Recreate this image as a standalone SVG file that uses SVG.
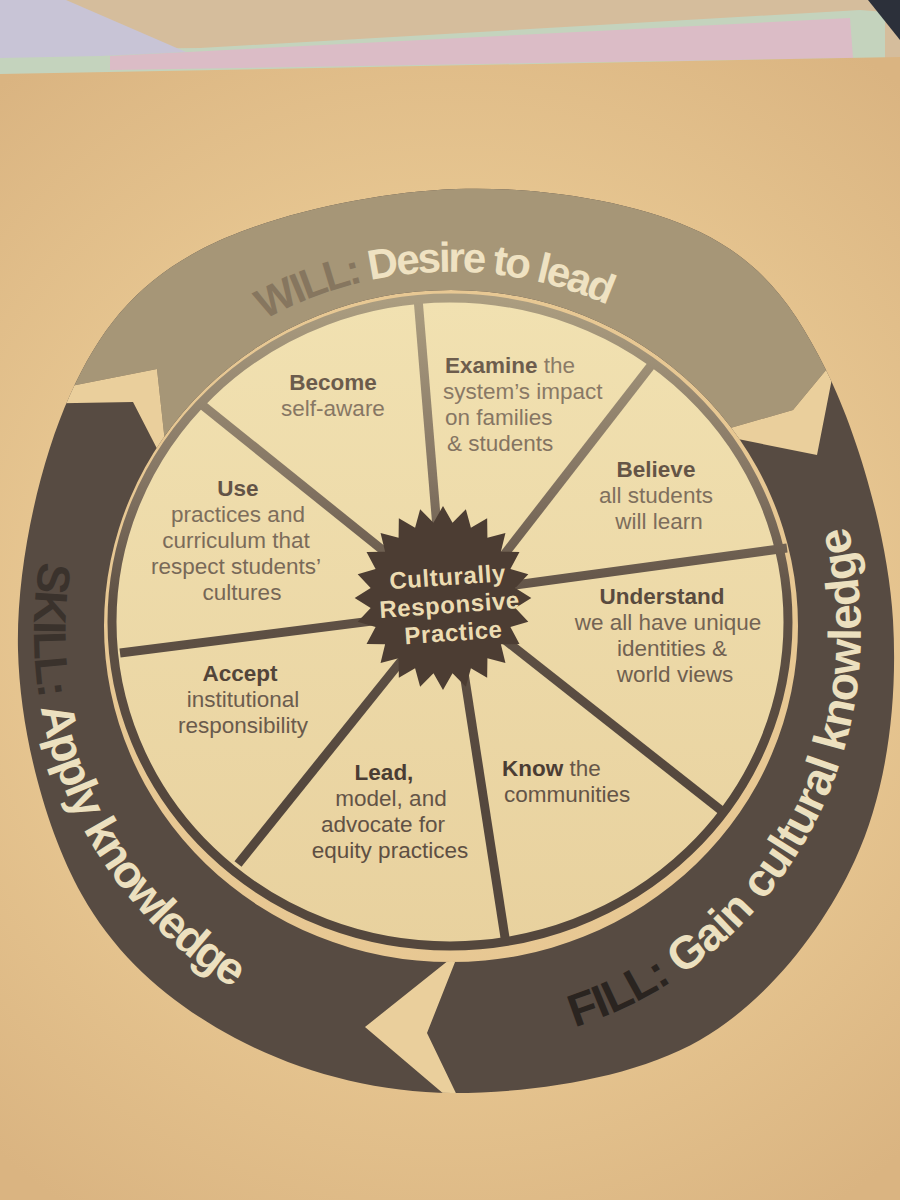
<svg xmlns="http://www.w3.org/2000/svg" xmlns:xlink="http://www.w3.org/1999/xlink" width="900" height="1200" viewBox="0 0 900 1200">
<defs>
<style>
.seg text{font-family:"Liberation Sans",Arial,sans-serif;font-size:22.5px;}
.r{fill:url(#txtReg);}
.b{fill:url(#txtBold);font-weight:bold;}
.band{font-family:"Liberation Sans",Arial,sans-serif;font-weight:bold;font-size:46px;letter-spacing:-2px;}
.star text{font-family:"Liberation Sans",Arial,sans-serif;font-weight:bold;font-size:24px;letter-spacing:0.6px;fill:#ecdcb2;text-anchor:middle;}
.spoke{stroke:url(#lineGrad);stroke-width:9;stroke-linecap:butt;fill:none;}
.dk1{fill:#3a322c;}
.dk2{fill:#2a2420;}
.lt{fill:#ece0bf;}
</style>
<radialGradient id="pageGrad" gradientUnits="userSpaceOnUse" cx="450" cy="620" r="700">
<stop offset="0" stop-color="#edd3a0"/><stop offset="0.6" stop-color="#e6c590"/><stop offset="1" stop-color="#dab481"/>
</radialGradient>
<linearGradient id="segGrad" gradientUnits="userSpaceOnUse" x1="0" y1="300" x2="0" y2="950">
<stop offset="0" stop-color="#f1e1b1"/><stop offset="1" stop-color="#e8d19e"/>
</linearGradient>
<linearGradient id="lineGrad" gradientUnits="userSpaceOnUse" x1="0" y1="300" x2="0" y2="800">
<stop offset="0" stop-color="#ab9d80"/><stop offset="0.35" stop-color="#857664"/><stop offset="0.6" stop-color="#5f5145"/><stop offset="1" stop-color="#54473d"/>
</linearGradient>
<linearGradient id="txtReg" gradientUnits="userSpaceOnUse" x1="0" y1="350" x2="0" y2="870">
<stop offset="0" stop-color="#8c7c68"/><stop offset="1" stop-color="#5c4d41"/>
</linearGradient>
<linearGradient id="txtBold" gradientUnits="userSpaceOnUse" x1="0" y1="350" x2="0" y2="870">
<stop offset="0" stop-color="#6e5e4e"/><stop offset="1" stop-color="#42352d"/>
</linearGradient>
<path id="bandShape" fill-rule="evenodd" clip-rule="evenodd" d="M456,189 C539.3,186 638.3,201.8 700,232 C761.7,262.2 793.8,305.3 826,370 C858.2,434.7 888.2,538.3 893,620 C897.8,701.7 887.2,790 855,860 C822.8,930 767.2,1001.2 700,1040 C632.8,1078.8 529.5,1093.3 452,1093 C374.5,1092.7 296.7,1071 235,1038 C173.3,1005 118.2,959.7 82,895 C45.8,830.3 20,733.3 18,650 C16,566.7 39.7,461.7 70,395 C100.3,328.3 135.7,284.3 200,250 C264.3,215.7 372.7,192 456,189 Z M104,626 A347,336 0 1,0 798,626 A347,336 0 1,0 104,626 Z"/>
<clipPath id="bandClip"><use xlink:href="#bandShape"/></clipPath>
<clipPath id="willClip"><polygon points="-50,-50 950,-50 950,320 836,358 793,410 720,431 450,626 168,470 157,369 -50,410"/></clipPath>
<path id="willArc" d="M103.2,505 A370,354 0 0,1 798.8,505"/>
<path id="skillArc" d="M59.2,489 A418,418 0 0,0 661,994"/>
<path id="fillArc" d="M381,1039.7 A408,414 0 0,0 805,423"/>
</defs>

<g id="background">
<rect x="0" y="0" width="900" height="1200" fill="#d5bd9c"/>
<polygon points="0,50 200,48 860,10 885,12 885,60 0,78" fill="#c4d3bd"/>
<polygon points="110,56 850,18 853,58 110,70" fill="#dbbcc6"/>
<polygon points="0,0 66,0 186,52 100,56 0,58" fill="#c8c4d6"/>
<polygon points="868,0 900,0 900,40" fill="#2c303a"/>
<polygon points="0,74 900,57 900,1200 0,1200" fill="url(#pageGrad)"/>
</g>

<g id="arrows">
<g id="arrow-fill-skill"><use xlink:href="#bandShape" fill="#574b42"/></g>
<g id="arrow-will" clip-path="url(#willClip)"><use xlink:href="#bandShape" fill="#a69677"/></g>
<g id="arrow-gaps" clip-path="url(#bandClip)" fill="#eacf9c">
<polygon points="20,396 157,369 168,470 133,402 20,404"/>
<polygon points="836,358 817,455 728,437 720,431 793,410"/>
<polygon points="459,952 365,1027 465,1112 427,1033"/>
</g>
<g id="label-will">
<text class="band"><textPath xlink:href="#willArc" startOffset="48%" text-anchor="middle" style="font-size:42px;letter-spacing:-2.5px"><tspan fill="#86765f">WILL:</tspan><tspan fill="#efe2c2"> Desire to lead</tspan></textPath></text>
</g>
<g id="label-skill" class="band">
<text class="dk1"><textPath xlink:href="#skillArc" startOffset="75">SKILL:</textPath></text>
<text class="lt"><textPath xlink:href="#skillArc" startOffset="222">Apply</textPath></text>
<text class="lt"><textPath xlink:href="#skillArc" startOffset="350.6">knowledge</textPath></text>
</g>
<g id="label-fill" class="band" style="letter-spacing:-1px">
<text class="dk2"><textPath xlink:href="#fillArc" startOffset="196">FILL:</textPath></text>
<text class="lt"><textPath xlink:href="#fillArc" startOffset="315.2">Gain</textPath></text>
<text class="lt"><textPath xlink:href="#fillArc" startOffset="425.3">cultural</textPath></text>
<text class="lt"><textPath xlink:href="#fillArc" startOffset="595.3">knowledge</textPath></text>
</g>
</g>

<ellipse id="wheel" cx="450" cy="622" rx="338" ry="324" fill="url(#segGrad)" stroke="url(#lineGrad)" stroke-width="9"/>

<g id="connectors">
<line class="spoke" x1="438" y1="540" x2="418" y2="298"/>
<line class="spoke" x1="500" y1="560" x2="653" y2="363"/>
<line class="spoke" x1="515" y1="585" x2="787" y2="548"/>
<line class="spoke" x1="505" y1="640" x2="722" y2="811"/>
<line class="spoke" x1="462" y1="660" x2="506" y2="944"/>
<line class="spoke" x1="410" y1="650" x2="238" y2="864"/>
<line class="spoke" x1="380" y1="620" x2="120" y2="653"/>
<line class="spoke" x1="395" y1="560" x2="201" y2="404"/>
</g>

<g id="center-star" class="star">
<polygon transform="translate(443,598) scale(0.96,1)" fill="#4c3d33" points="0,-92 9.92,-75.35 23.81,-88.87 29.08,-70.21 46,-79.67 46.27,-60.29 65.05,-65.05 60.29,-46.27 79.67,-46 70.21,-29.08 88.87,-23.81 75.35,-9.92 92,0 75.35,9.92 88.87,23.81 70.21,29.08 79.67,46 60.29,46.27 65.05,65.05 46.27,60.29 46,79.67 29.08,70.21 23.81,88.87 9.92,75.35 0,92 -9.92,75.35 -23.81,88.87 -29.08,70.21 -46,79.67 -46.27,60.29 -65.05,65.05 -60.29,46.27 -79.67,46 -70.21,29.08 -88.87,23.81 -75.35,9.92 -92,0 -75.35,-9.92 -88.87,-23.81 -70.21,-29.08 -79.67,-46 -60.29,-46.27 -65.05,-65.05 -46.27,-60.29 -46,-79.67 -29.08,-70.21 -23.81,-88.87 -9.92,-75.35"/>
<g transform="rotate(-4,450,612)">
<text x="450" y="585">Culturally</text>
<text x="450" y="613">Responsive</text>
<text x="452" y="641">Practice</text>
</g>
</g>

<g class="seg">
<g id="seg-become" text-anchor="middle">
<text x="333" y="390" class="b">Become</text>
<text x="333" y="416" class="r">self-aware</text>
</g>
<g id="seg-examine">
<text x="445" y="373" class="r"><tspan class="b">Examine</tspan> the</text>
<text x="443" y="399" class="r">system’s impact</text>
<text x="445" y="425" class="r">on families</text>
<text x="447" y="451" class="r">&amp; students</text>
</g>
<g id="seg-believe" text-anchor="middle">
<text x="656" y="477" class="b">Believe</text>
<text x="656" y="503" class="r">all students</text>
<text x="659" y="529" class="r">will learn</text>
</g>
<g id="seg-understand" text-anchor="middle">
<text x="662" y="604" class="b">Understand</text>
<text x="668" y="630" class="r">we all have unique</text>
<text x="672" y="656" class="r">identities &amp;</text>
<text x="675" y="682" class="r">world views</text>
</g>
<g id="seg-know">
<text x="502" y="776" class="r"><tspan class="b">Know</tspan> the</text>
<text x="504" y="802" class="r">communities</text>
</g>
<g id="seg-lead" text-anchor="middle">
<text x="384" y="780" class="b">Lead,</text>
<text x="391" y="806" class="r">model, and</text>
<text x="383" y="832" class="r">advocate for</text>
<text x="390" y="858" class="r">equity practices</text>
</g>
<g id="seg-accept" text-anchor="middle">
<text x="240" y="681" class="b">Accept</text>
<text x="243" y="707" class="r">institutional</text>
<text x="243" y="733" class="r">responsibility</text>
</g>
<g id="seg-use" text-anchor="middle">
<text x="238" y="496" class="b">Use</text>
<text x="238" y="522" class="r">practices and</text>
<text x="236" y="548" class="r">curriculum that</text>
<text x="236" y="574" class="r">respect students’</text>
<text x="242" y="600" class="r">cultures</text>
</g>
</g>
</svg>
